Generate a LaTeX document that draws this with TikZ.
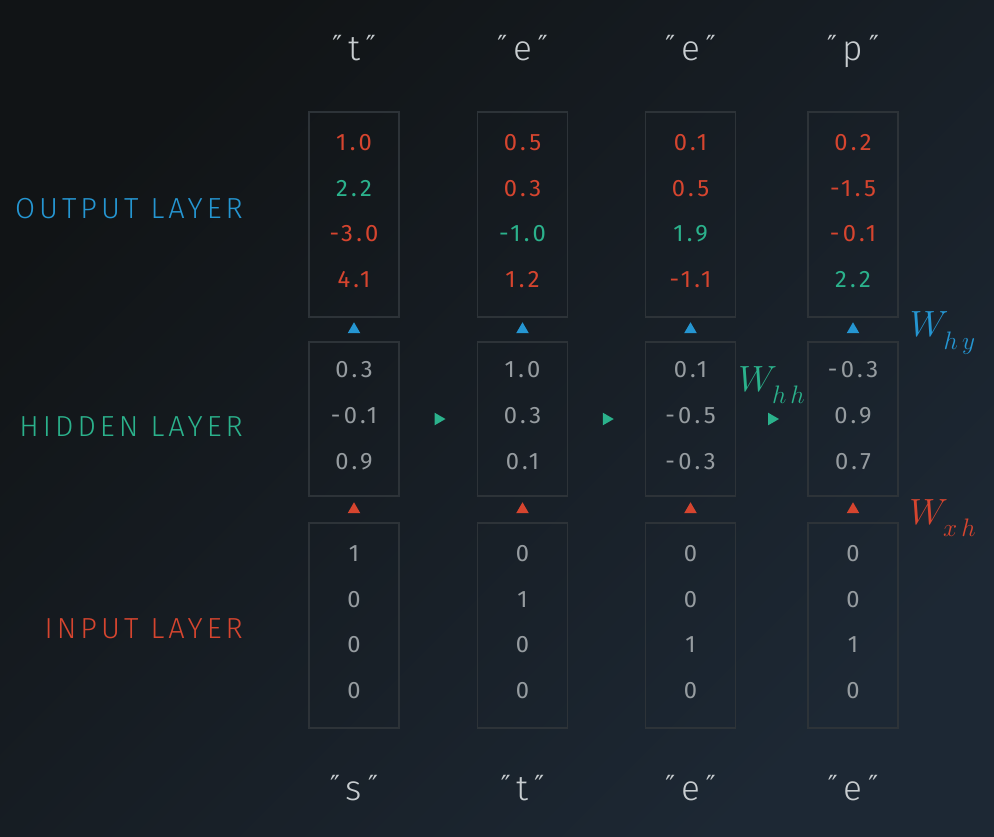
\documentclass[tikz,border=0pt]{standalone}
\usepackage{fontspec}
\setmainfont{Fira Sans Light}
\newfontfamily\layerfont[LetterSpace=14]{Fira Sans Light}
\newfontfamily\valfont[LetterSpace=14]{Fira Sans}
\newfontfamily\quotefont{DejaVu Sans}
\usepackage{tikz}
\usetikzlibrary{shapes.geometric,positioning}

\definecolor{bgdark}{HTML}{111416}
\definecolor{bglight}{HTML}{1D2834}
\definecolor{rnnred}{HTML}{D6452F}
\definecolor{rnngreen}{HTML}{2BB28C}
\definecolor{rnnblue}{HTML}{2596D2}
\definecolor{valgray}{HTML}{969CA0}
\definecolor{chargray}{HTML}{C8CDD0}
\definecolor{boxline}{HTML}{2D3338}

\newcommand\rv[1]{\textcolor{rnnred}{#1}}
\newcommand\gv[1]{\textcolor{rnngreen}{#1}}
\newcommand\dq{{\quotefont\fontsize{15}{15}\selectfont\raisebox{3pt}{″}}}
\newcommand\wsub[1]{\lower4pt\hbox{$\scriptstyle #1$}}

\begin{document}
\begin{tikzpicture}[x=0.02cm, y=-0.02cm,
  vec/.style={draw=boxline, line width=0.8pt, minimum width=1.8cm, align=center,
    text=valgray, font=\valfont\fontsize{13.5}{26}\selectfont,
    execute at end node={\rule[-4pt]{0pt}{4pt}}},
  vec4/.style={vec, minimum height=4.1cm},
  vec3/.style={vec, minimum height=3.08cm},
  layer/.style={anchor=east, font=\layerfont\fontsize{16.5}{16.5}\selectfont},
  char/.style={anchor=base, text=chargray, font=\fontsize{20}{20}\selectfont},
  tri/.style={regular polygon, regular polygon sides=3, fill, inner sep=0pt, minimum size=0.29cm},
  weight/.style={font=\fontsize{21.5}{21.5}\selectfont}]

  % background
  \useasboundingbox (0,0) rectangle (994,836);
  \shade[top color=bgdark, bottom color=bglight, shading angle=45] (0,0) rectangle (994,836);

  % layer names
  \node[layer, text=rnnblue]  (outname) at (249,209) {OUTPUT LAYER};
  \node[layer, text=rnngreen] (hidname) at (249,427) {HIDDEN LAYER};
  \node[layer, text=rnnred]   (inname)  at (249,629) {INPUT LAYER};

  % output layer
  \node[vec4] (out1) at (354,214.5)   {\rv{1.0}\\\gv{2.2}\\\rv{-3.0}\\\rv{4.1}};
  \node[vec4] (out2) at (522.5,214.5) {\rv{0.5}\\\rv{0.3}\\\gv{-1.0}\\\rv{1.2}};
  \node[vec4] (out3) at (690.5,214.5) {\rv{0.1}\\\rv{0.5}\\\gv{1.9}\\\rv{-1.1}};
  \node[vec4] (out4) at (853,214.5)   {\rv{0.2}\\\rv{-1.5}\\\rv{-0.1}\\\gv{2.2}};

  % hidden layer
  \node[vec3] (hid1) at (354,419)   {0.3\\-0.1\\0.9};
  \node[vec3] (hid2) at (522.5,419) {1.0\\0.3\\0.1};
  \node[vec3] (hid3) at (690.5,419) {0.1\\-0.5\\-0.3};
  \node[vec3] (hid4) at (853,419)   {-0.3\\0.9\\0.7};

  % input layer
  \node[vec4] (in1) at (354,625.5)   {1\\0\\0\\0};
  \node[vec4] (in2) at (522.5,625.5) {0\\1\\0\\0};
  \node[vec4] (in3) at (690.5,625.5) {0\\0\\1\\0};
  \node[vec4] (in4) at (853,625.5)   {0\\0\\1\\0};

  % characters
  \node[char] (tgt1) at (354,60)   {\dq\,t\,\dq};
  \node[char] (tgt2) at (522.5,60) {\dq\,e\,\dq};
  \node[char] (tgt3) at (690.5,60) {\dq\,e\,\dq};
  \node[char] (tgt4) at (853,60)   {\dq\,p\,\dq};
  \node[char] (src1) at (354,800)   {\dq\,s\,\dq};
  \node[char] (src2) at (522.5,800) {\dq\,t\,\dq};
  \node[char] (src3) at (690.5,800) {\dq\,e\,\dq};
  \node[char] (src4) at (853,800)   {\dq\,e\,\dq};

  % arrow heads between the layers
  \path (in1) -- node[tri, rnnred] (xh1) {} (hid1);
  \path (in2) -- node[tri, rnnred] (xh2) {} (hid2);
  \path (in3) -- node[tri, rnnred] (xh3) {} (hid3);
  \path (in4) -- node[tri, rnnred] (xh4) {} (hid4);
  \path (hid1) -- node[tri, rnnblue] (hy1) {} (out1);
  \path (hid2) -- node[tri, rnnblue] (hy2) {} (out2);
  \path (hid3) -- node[tri, rnnblue] (hy3) {} (out3);
  \path (hid4) -- node[tri, rnnblue] (hy4) {} (out4);
  \path (hid1) -- node[tri, rnngreen, shape border rotate=-90] (hh1) {} (hid2);
  \path (hid2) -- node[tri, rnngreen, shape border rotate=-90] (hh2) {} (hid3);
  \path (hid3) -- node[tri, rnngreen, shape border rotate=-90] (hh3) {} (hid4);

  % weights
  \node[weight, text=rnngreen] (whh) at (772,385) {$W_{\wsub{h\,h}}$};
  \node[weight, text=rnnblue]  (why) at (943,333) {$W_{\wsub{h\,y}}$};
  \node[weight, text=rnnred]   (wxh) at (943,518) {$W_{\wsub{x\,h}}$};
\end{tikzpicture}
\end{document}
